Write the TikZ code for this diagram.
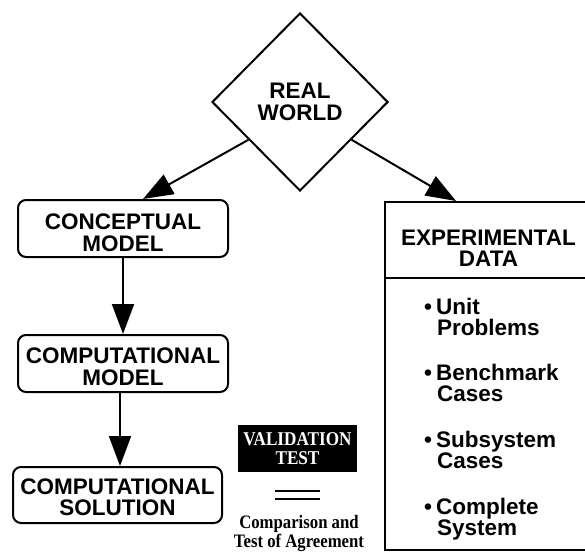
\documentclass[tikz,border=0pt]{standalone}
\usepackage{fontspec}
\setmainfont{Liberation Sans}
\newfontfamily\tmsfont[FakeStretch=0.88]{Liberation Serif}
\usetikzlibrary{shapes.geometric,arrows.meta,calc}
\newcommand\labfont{\fontsize{22.5}{21.5}\selectfont\bfseries}
\newcommand\downby[1]{\rule{0pt}{#1}}
\begin{document}
\begin{tikzpicture}[x=1pt,y=-1pt,
  box/.style={draw,line width=2pt,rounded corners=8pt,minimum width=210pt,minimum height=57pt,inner sep=0pt,align=center,font=\labfont},
  sqbox/.style={draw,line width=2pt,inner sep=0pt,align=center,font=\labfont},
  item/.style={anchor=base west,inner sep=0pt,font=\labfont},
  arr/.style={line width=2pt,-{Triangle[length=30pt,width=22pt]}},
  dbl/.style={line width=2.6pt}]
\useasboundingbox (0,0) rectangle (585,553);
\clip (0,0) rectangle (585,553);
% real world diamond
\node[diamond,draw,line width=2pt,minimum width=176pt,minimum height=178pt,inner sep=0pt,align=center,font=\labfont] (rw) at (300,102) {REAL\\WORLD};
% left chain
\node[box] (cm) at (123,228.5) {\downby{24pt}CONCEPTUAL\\MODEL};
\node[box] (pm) at (123,363.5) {\downby{22pt}COMPUTATIONAL\\MODEL};
\node[box,minimum width=209pt,minimum height=56pt] (ps) at (117.5,495) {\downby{20pt}COMPUTATIONAL\\SOLUTION};
% experimental data
\node[sqbox,minimum width=207pt,minimum height=76pt] (exh) at (488.5,240) {\downby{32pt}EXPERIMENTAL\\DATA};
\node[sqbox,minimum width=207pt,minimum height=272pt] (exb) at (488.5,414) {};
\node[item] (u1) at (424,314.5) {\textbullet\hspace{4pt}Unit};
\node[item] (u2) at (437,335.5) {Problems};
\node[item] (b1) at (424,380.5) {\textbullet\hspace{4pt}Benchmark};
\node[item] (b2) at (437,401.5) {Cases};
\node[item] (s1) at (424,447.5) {\textbullet\hspace{4pt}Subsystem};
\node[item] (s2) at (437,468.5) {Cases};
\node[item] (c1) at (424,514.5) {\textbullet\hspace{4pt}Complete};
\node[item] (c2) at (437,535.5) {System};
% validation
\node[fill=black,text=white,minimum width=119pt,minimum height=47pt,inner sep=0pt,align=center,font={\tmsfont\fontsize{19.5}{19.5}\selectfont\bfseries}] (vt) at (297.5,448.5) {VALIDATION\\TEST};
\coordinate (d1a) at (275,491); \coordinate (d1b) at (320,491);
\coordinate (d2a) at (275,499); \coordinate (d2b) at (320,499);
\draw[dbl] (d1a) -- (d1b);
\draw[dbl] (d2a) -- (d2b);
\node[align=center,inner sep=0pt,font={\tmsfont\fontsize{19}{18.5}\selectfont\bfseries}] (cmp) at (299,533.5) {Comparison and\\Test of Agreement};
% connectors
\coordinate (rwl) at ($(rw.west)!0.42!(rw.south)$);
\coordinate (rwr) at ($(rw.east)!0.42!(rw.south)$);
\draw[arr] (rwl) -- ([xshift=20pt]cm.north);
\draw[arr] (rwr) -- ([xshift=72pt]exh.north west);
\draw[arr] (cm.south) -- (pm.north);
\draw[arr] ([xshift=-3pt]pm.south) -- ([xshift=2.5pt]ps.north);
\end{tikzpicture}
\end{document}
